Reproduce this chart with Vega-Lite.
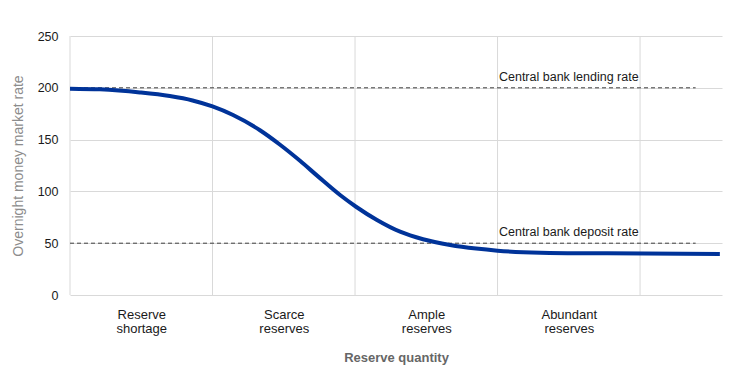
{
  "$schema": "https://vega.github.io/schema/vega-lite/v6.json",
  "width": 652,
  "height": 259,
  "autosize": {"type": "none"},
  "padding": {"left": 70, "top": 36, "right": 20, "bottom": 74},
  "background": "white",
  "config": {
    "view": {"stroke": null},
    "font": "Liberation Sans"
  },
  "datasets": {
    "curve": [
      {"q": 0, "rate": 199.2},
      {"q": 0.21, "rate": 198.5},
      {"q": 0.49, "rate": 195.5},
      {"q": 0.7, "rate": 192},
      {"q": 0.86, "rate": 187.8},
      {"q": 1.0, "rate": 182},
      {"q": 1.144, "rate": 173.7},
      {"q": 1.333, "rate": 159},
      {"q": 1.474, "rate": 145},
      {"q": 1.614, "rate": 129.5},
      {"q": 1.74, "rate": 114.5},
      {"q": 1.895, "rate": 96.5},
      {"q": 2.007, "rate": 85.2},
      {"q": 2.154, "rate": 72.4},
      {"q": 2.316, "rate": 61.1},
      {"q": 2.477, "rate": 53.8},
      {"q": 2.667, "rate": 48.3},
      {"q": 2.85, "rate": 44.8},
      {"q": 3.0, "rate": 42.8},
      {"q": 3.3, "rate": 40.9},
      {"q": 3.77, "rate": 40.2},
      {"q": 4.56, "rate": 39.6}
    ],
    "refs": [
      {"rate": 200, "start": 0, "end": 4.39, "label": "Central bank lending rate"},
      {"rate": 50, "start": 0, "end": 4.39, "label": "Central bank deposit rate"}
    ],
    "vgrid": [{"q": 0}, {"q": 1}, {"q": 2}, {"q": 3}, {"q": 4}]
  },
  "layer": [
    {
      "data": {"name": "vgrid"},
      "mark": {"type": "rule", "color": "#d9d9d9", "strokeWidth": 1},
      "encoding": {
        "x": {
          "field": "q", "type": "quantitative",
          "scale": {"domain": [0, 4.575], "nice": false, "zero": false},
          "axis": {
            "values": [0.5, 1.5, 2.5, 3.5],
            "labelExpr": "datum.value == 0.5 ? ['Reserve', 'shortage'] : datum.value == 1.5 ? ['Scarce', 'reserves'] : datum.value == 2.5 ? ['Ample', 'reserves'] : ['Abundant', 'reserves']",
            "domain": false, "ticks": false, "grid": false,
            "labelFontSize": 13, "labelColor": "#1a1a1a", "labelPadding": 13,
            "labelLineHeight": 14, "labelBaseline": "top",
            "title": "Reserve quantity", "titleFontSize": 13, "titleFontWeight": "bold",
            "titleColor": "#666666", "titlePadding": 16
          }
        },
        "y": {"datum": 0, "type": "quantitative"},
        "y2": {"datum": 250}
      }
    },
    {
      "data": {"name": "refs"},
      "mark": {"type": "rule", "color": "#404040", "strokeWidth": 1, "strokeDash": [4, 3]},
      "encoding": {
        "x": {"field": "start", "type": "quantitative"},
        "x2": {"field": "end"},
        "y": {"field": "rate", "type": "quantitative"}
      }
    },
    {
      "data": {"name": "refs"},
      "mark": {"type": "text", "fontSize": 12.5, "color": "#1a1a1a", "dy": -11, "baseline": "middle", "align": "center"},
      "encoding": {
        "x": {"datum": 3.5, "type": "quantitative"},
        "y": {"field": "rate", "type": "quantitative"},
        "text": {"field": "label"}
      }
    },
    {
      "data": {"name": "curve"},
      "mark": {"type": "line", "color": "#003399", "strokeWidth": 4, "interpolate": "monotone"},
      "encoding": {
        "x": {"field": "q", "type": "quantitative"},
        "y": {
          "field": "rate", "type": "quantitative",
          "scale": {"domain": [0, 250], "nice": false},
          "axis": {
            "values": [0, 50, 100, 150, 200, 250],
            "domain": false, "ticks": false, "grid": true, "gridColor": "#d9d9d9",
            "labelFontSize": 12.5, "labelColor": "#1a1a1a", "labelPadding": 12,
            "title": "Overnight money market rate", "titleFontSize": 14,
            "titleFontWeight": "normal", "titleColor": "#8c8c8c", "titlePadding": 12
          }
        }
      }
    }
  ]
}
